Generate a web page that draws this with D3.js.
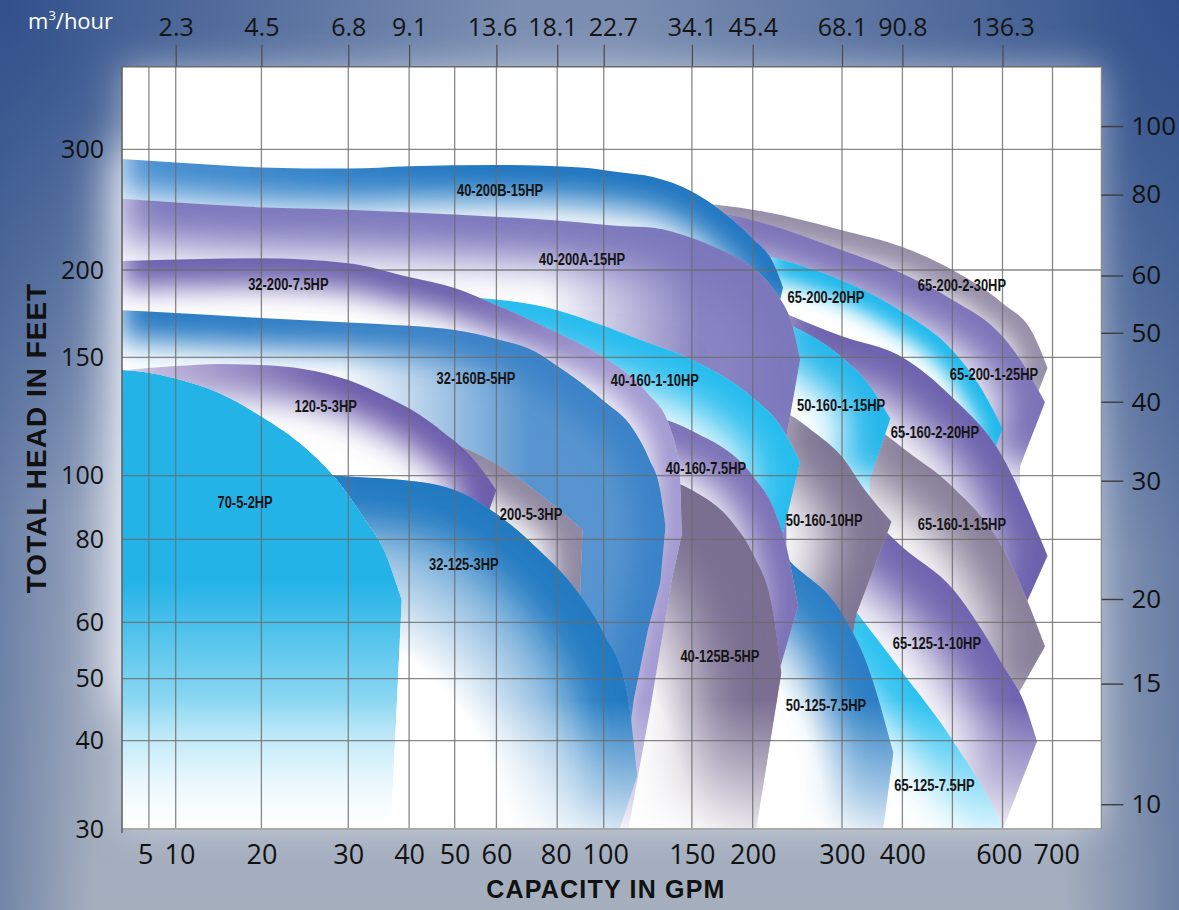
<!DOCTYPE html>
<html>
<head>
<meta charset="utf-8">
<script src="https://cdn.jsdelivr.net/npm/d3@7"></script>
<style>
  html, body { margin: 0; padding: 0; background: #8b9ab7; }
  svg { display: block; }
</style>
</head>
<body>
<div id="chart"></div>
<script>
(function() {
  // ---- axis values ----
  var headTicks  = [30, 40, 50, 60, 80, 100, 150, 200, 300];
  var headGrid   = [40, 50, 60, 80, 100, 150, 200, 300];
  var meterTicks = [10, 15, 20, 30, 40, 50, 60, 80, 100];
  var gpmTicks   = [5, 10, 20, 30, 40, 50, 60, 80, 100, 150, 200, 300, 400, 600, 700];
  var gpmGrid    = [5, 10, 20, 30, 40, 50, 60, 80, 100, 150, 200, 300, 400, 500, 600, 700];
  var m3Gpm      = [10, 20, 30, 40, 60, 80, 100, 150, 200, 300, 400, 600];
  var m3Labels   = ["2.3", "4.5", "6.8", "9.1", "13.6", "18.1", "22.7", "34.1", "45.4", "68.1", "90.8", "136.3"];

  // ---- pump curves, [gpm, feet], back to front ----
  var pumpNames = [
    "65-200-2-30HP", "65-200-1-25HP", "65-200-20HP", "65-160-2-20HP", "65-160-1-15HP",
    "50-160-1-15HP", "65-125-1-10HP", "65-125-7.5HP", "50-160-10HP",
    "40-200B-15HP", "40-200A-15HP", "40-160-1-10HP", "50-125-7.5HP", "40-160-7.5HP", "40-125B-5HP",
    "32-200-7.5HP", "32-160B-5HP", "200-5-3HP", "120-5-3HP", "32-125-3HP", "70-5-2HP"
  ];

  // upper edge of each band, ending at its point
  var pumpCurves = [
    [[160,255],[200,250],[300,233],[400,219],[500,200],[600,181],[660,164],[690,145.5]],
    [[165,249],[200,241.5],[300,216.6],[400,198],[500,183],[600,162],[648,145],[685,131]],
    [[220,211],[300,194],[400,176],[500,154],[560,136],[600,120]],
    [[228,177],[300,162],[400,150],[500,133],[600,108],[660,86],[690,76]],
    [[330,124],[374,117],[399,112],[500,96.5],[600,78],[645,66.6],[685,55.7]],
    [[231,171],[300,150],[346,138],[380,124]],
    [[320,90],[363,84],[401,78],[501,68],[601,52.4],[645,45.8],[669,39.9]],
    [[300,67],[401,51],[501,40],[601,30],[615,28]],
    [[225,128],[240,126],[270,118],[300,108],[338,95.5],[382,85.5]],
    [[0,292],[10,289],[20,285],[30,284],[40,286],[60,287],[90,285],[109,281],[128,277],[150,265],[173,250],[200,226],[223,206],[234,190]],
    [[0,259],[20,252],[30,250],[50,246],[80,241],[109,236.5],[128,235],[150,226.5],[173,217],[200,202],[226,187],[245,167],[253,149]],
    [[50,185],[80,177],[100,168],[120.6,160],[150,149],[200,133],[230.6,121.4],[253,105.8]],
    [[200,85],[225,79],[239,75.4],[300,62.2],[341,52.7],[385,38.6]],
    [[113,128],[150,119],[200,100],[223,90],[238,78],[251,64]],
    [[100,110],[130,100],[150,95.5],[184,85],[200,76.6],[223,62.2],[232,51]],
    [[0,207.5],[20,209.7],[30,205.6],[40,196],[50,189.7],[60,180],[80,164],[100,150],[124.5,135],[137.5,120.6],[143,102.4],[144.3,81.4]],
    [[0,177],[10,175.4],[20,172.5],[30,170],[40,168],[50,165.6],[60,160.5],[73,153],[80,146.3],[91,138.7],[100,131.5],[117,119.3],[126,106.6],[132,95.5],[135,84]],
    [[40,118],[47.5,115],[60,105],[74,94.5],[91,83]],
    [[0,144.5],[10,146.3],[15,147.2],[20,146.7],[25,145],[30,140.4],[36.3,133.3],[42.4,125.6],[47.4,118.5],[53.7,108.7],[60,95.5]],
    [[27,100.5],[32,99.5],[38.5,98.7],[50,95.5],[60,88],[74,77.4],[87,68.6],[100,58],[113,48.2],[119,36]],
    [[0,144.6],[5,143.5],[10,141],[15,135],[20,125],[25,112],[28.3,100],[32.5,87],[36.3,76],[38.2,68],[38.8,65.4]]
  ];

  // edge running back down from the point
  var pumpEnds = [
    [[665,132]], [[635,104]], [[580,108]], [[615,57]], [[619,45.8]],
    [[346,98.6]], [[601,30]], [], [[324,62],[275,30]],
    [[227,175]], [[238,117]], [[234,82],[208,30]], [[368,30]], [[215.7,44.4],[205,30]], [[204,30]],
    [[138.6,70.2],[126,44.5],[114,30]], [[132,69.5],[125,58.6],[117,46.6],[108,30]],
    [[90,68.6],[87,30]], [[54,75],[50,30]], [[109,30]], [[37,30]]
  ];

  var labelAt = [
    [519,191.4], [583,143], [282,184.5], [465,118.4], [519,84.7],
    [299,129.8], [469,56.3], [464,35], [280,86],
    [61.2,266], [90.7,209.1], [129,140.4], [282,45.8], [161.6,103.3], [173,54],
    [23.1,192], [55.1,141.3], [71.4,88], [27.4,129.4], [52.2,74], [18.1,91.7]
  ];

  // ---- look ----
  // fade: how far the colour reaches in from the band's edge
  // c0/hold/mid: edge colour at the left, kept to "hold", blended into c by "mid"
  // body: extra wash inside the band ("r" radial from lower left, "h" left to right)
  var pumpStyle = {
    "65-200-2-30HP": { c: "#958ea8", fade: 50 },
    "65-200-1-25HP": { c: "#7a71b7", fade: 75 },
    "65-200-20HP":   { c: "#1fb8ec", fade: 40 },
    "65-160-2-20HP": { c: "#6b5fac", fade: 90 },
    "65-160-1-15HP": { c: "#877e98", fade: 95 },
    "50-160-1-15HP": { c: "#22b6ea", fade: 75 },
    "65-125-1-10HP": { c: "#6d61ad", fade: 105 },
    "65-125-7.5HP":  { c: "#25c0f0", fade: 85 },
    "50-160-10HP":   { c: "#7c7391", fade: 105 },
    "50-125-7.5HP":  { c: "#2a7ec4", fade: 90, body: ["r", 0.55, 1.0, 0.85] },
    "40-200B-15HP":  { c: "#1b75c0", c0: "#4a90d2", fade: 70 },
    "40-200A-15HP":  { c: "#7b77bc", fade: 85, body: ["h", 0.62, 0.85, 0.9] },
    "40-160-1-10HP": { c: "#20bbee", fade: 90 },
    "40-160-7.5HP":  { c: "#7a6fb6", fade: 75 },
    "40-125B-5HP":   { c: "#7a6e91", fade: 140, body: ["r", 0.5, 0.95, 0.9] },
    "32-200-7.5HP":  { c: "#a199d0", c0: "#6c60ad", hold: 0.6, mid: 0.86, fade: 55 },
    "32-160B-5HP":   { c: "#3a82c7", c0: "#2278c2", fade: 60, body: ["h", 0.4, 0.75, 0.85] },
    "200-5-3HP":     { c: "#8d86a0", fade: 60 },
    "120-5-3HP":     { c: "#6a5caa", c0: "#cdc7e5", fade: 65 },
    "32-125-3HP":    { c: "#2079c1", fade: 80, body: ["r", 0.6, 1.0, 0.85] },
    "70-5-2HP":      { c: "#24b3e7", vfill: [0.42, 0.92] }
  };

  var W = 1179, H = 910;
  var left = 122, right = 1101.4, top = 66.7, bottom = 829;

  // the chart's own hand-spaced GPM axis
  var x = d3.scaleLinear()
    .domain([0, 5, 10, 20, 30, 40, 50, 60, 80, 100, 150, 200, 300, 400, 500, 600, 700, 800])
    .range([left, 148.9, 175.7, 261.4, 348.3, 409.1, 454.7, 496.4, 557.2, 603.7, 691.9, 752.7, 842, 902.4, 952.4, 1002.5, 1052.5, right]);
  var y = d3.scaleLinear()
    .domain([30, 40, 50, 60, 80, 100, 150, 200, 300, 400])
    .range([bottom, 740.7, 678.7, 622.3, 539.3, 475.7, 357.3, 270, 149.3, top]);
  var yM = d3.scaleLinear()
    .domain(y.domain().map(function(f) { return f * 0.3048; }))
    .range(y.range());

  var svg = d3.select("#chart").append("svg").attr("width", W).attr("height", H);
  var defs = svg.append("defs");

  function stops(grad, list) {
    list.forEach(function(s) {
      grad.append("stop").attr("offset", s[0]).attr("stop-color", s[1])
        .attr("stop-opacity", s[2] === undefined ? 1 : s[2]);
    });
    return grad;
  }

  function fullBlur(id, sd) {
    defs.append("filter").attr("id", id)
      .attr("filterUnits", "userSpaceOnUse").attr("x", 0).attr("y", 0).attr("width", W).attr("height", H)
      .append("feGaussianBlur").attr("stdDeviation", sd);
  }

  // ---- background ----
  stops(defs.append("linearGradient").attr("id", "bgLin")
    .attr("x1", 0).attr("y1", 0).attr("x2", 0).attr("y2", 1),
    [[0, "#7b8eb1"], [0.5, "#93a1bd"], [1, "#a6afbe"]]);
  stops(defs.append("linearGradient").attr("id", "bgSides")
    .attr("x1", 0).attr("y1", 0).attr("x2", 1).attr("y2", 0),
    [[0, "#34538b", 0.45], [0.08, "#34538b", 0], [0.9, "#34538b", 0], [1, "#34538b", 0.5]]);
  stops(defs.append("radialGradient").attr("id", "bgTL").attr("gradientUnits", "userSpaceOnUse")
    .attr("cx", 0).attr("cy", 0).attr("r", 520),
    [[0, "#2f4f8a", 0.95], [1, "#2f4f8a", 0]]);
  stops(defs.append("radialGradient").attr("id", "bgTR").attr("gradientUnits", "userSpaceOnUse")
    .attr("cx", W).attr("cy", 0).attr("r", 560),
    [[0, "#2f4f8a", 0.95], [1, "#2f4f8a", 0]]);

  svg.append("rect").attr("width", W).attr("height", H).attr("fill", "url(#bgLin)");
  svg.append("rect").attr("width", W).attr("height", H).attr("fill", "url(#bgSides)");
  svg.append("rect").attr("width", W).attr("height", H).attr("fill", "url(#bgTL)");
  svg.append("rect").attr("width", W).attr("height", H).attr("fill", "url(#bgTR)");

  fullBlur("glow", 18);
  fullBlur("glowLeft", 24);
  svg.append("rect")
    .attr("x", left).attr("y", top).attr("width", right - left).attr("height", bottom - top)
    .attr("fill", "#eef1f7").attr("opacity", 0.55).attr("filter", "url(#glow)");
  svg.append("rect")
    .attr("x", left - 10).attr("y", 150).attr("width", 220).attr("height", 560)
    .attr("fill", "#f4f6fa").attr("opacity", 0.9).attr("filter", "url(#glowLeft)");

  // ---- plot ----
  defs.append("clipPath").attr("id", "plotClip").append("rect")
    .attr("x", left).attr("y", top).attr("width", right - left).attr("height", bottom - top);

  var plot = svg.append("g").attr("clip-path", "url(#plotClip)");
  plot.append("rect")
    .attr("x", left).attr("y", top).attr("width", right - left).attr("height", bottom - top)
    .attr("fill", "#fff");

  var curveLine = d3.line().curve(d3.curveMonotoneX);
  var floorFt = 25;

  function px(d) { return [x(d[0]), y(d[1])]; }
  function lineTo(list) {
    return list.map(function(p) { return "L" + p[0] + "," + p[1]; }).join("");
  }

  function outline(topPts, endPts) {
    var pts = topPts.map(px);
    var rest = endPts.map(px);
    var last = rest.length ? rest[rest.length - 1] : pts[pts.length - 1];
    rest.push([last[0], y(floorFt)], [pts[0][0], y(floorFt)]);
    return curveLine(pts) + lineTo(rest) + "Z";
  }

  function edgePath(topPts, endPts) {
    return curveLine(topPts.map(px)) + lineTo(endPts.map(px));
  }

  var bands = plot.append("g");

  pumpNames.forEach(function(name, i) {
    var st = pumpStyle[name];
    var shape = outline(pumpCurves[i], pumpEnds[i]);

    defs.append("clipPath").attr("id", "band" + i).append("path").attr("d", shape);
    var g = bands.append("g").attr("clip-path", "url(#band" + i + ")");
    g.append("path").attr("d", shape).attr("fill", "#fff");

    if (st.vfill) {
      stops(defs.append("linearGradient").attr("id", "vf" + i)
        .attr("x1", 0).attr("y1", 0).attr("x2", 0).attr("y2", 1),
        [[0, st.c, 1], [st.vfill[0], st.c, 1], [st.vfill[1], st.c, 0]]);
      g.append("path").attr("d", shape).attr("fill", "url(#vf" + i + ")");
    }

    if (st.body) {
      var grad = st.body[0] === "r"
        ? defs.append("radialGradient").attr("id", "body" + i).attr("cx", 0).attr("cy", 1).attr("r", 1)
        : defs.append("linearGradient").attr("id", "body" + i).attr("x1", 0).attr("y1", 0).attr("x2", 1).attr("y2", 0);
      stops(grad, [[st.body[1], st.c, 0], [st.body[2], st.c, st.body[3]]]);
      g.append("path").attr("d", shape).attr("fill", "url(#body" + i + ")");
    }

    if (st.fade) {
      fullBlur("soft" + i, st.fade / 4);
      var stroke = st.c;
      if (st.c0) {
        stops(defs.append("linearGradient").attr("id", "edge" + i)
          .attr("x1", 0).attr("y1", 0).attr("x2", 1).attr("y2", 0),
          [[0, st.c0], [st.hold || 0, st.c0], [st.mid || 0.55, st.c], [1, st.c]]);
        stroke = "url(#edge" + i + ")";
      }
      g.append("path")
        .attr("d", edgePath(pumpCurves[i], pumpEnds[i]))
        .attr("fill", "none")
        .attr("stroke", stroke)
        .attr("stroke-width", st.fade)
        .attr("stroke-linejoin", "round")
        .attr("filter", "url(#soft" + i + ")");
    }
  });

  // everything washes out toward the floor of the chart
  stops(defs.append("linearGradient").attr("id", "floor")
    .attr("x1", 0).attr("y1", 0).attr("x2", 0).attr("y2", 1),
    [[0, "#fff", 0], [1, "#fff", 0.78]]);
  plot.append("rect")
    .attr("x", left).attr("y", 700).attr("width", right - left).attr("height", bottom - 700)
    .attr("fill", "url(#floor)");

  // grid
  var grid = plot.append("g").attr("stroke", "#6a6a6a").attr("stroke-opacity", 0.8).attr("stroke-width", 1.3);
  grid.selectAll("line.v").data(gpmGrid).join("line")
    .attr("x1", function(d) { return x(d); }).attr("x2", function(d) { return x(d); })
    .attr("y1", top).attr("y2", bottom);
  grid.selectAll("line.h").data(headGrid).join("line")
    .attr("x1", left).attr("x2", right)
    .attr("y1", function(d) { return y(d); }).attr("y2", function(d) { return y(d); });

  // band names, squeezed to a condensed face
  plot.append("g").selectAll("text").data(pumpNames).join("text")
    .attr("transform", function(d, i) {
      return "translate(" + x(labelAt[i][0]) + "," + y(labelAt[i][1]) + ") scale(0.76,1)";
    })
    .attr("dy", "0.36em")
    .attr("text-anchor", "middle")
    .attr("font-family", "'Liberation Sans', Arial, sans-serif")
    .attr("font-weight", "bold")
    .attr("font-size", 17)
    .attr("fill", "#141414")
    .text(function(d) { return d; });

  // frame
  var frame = svg.append("g").attr("fill", "none");
  frame.append("line").attr("x1", left).attr("x2", right).attr("y1", top).attr("y2", top)
    .attr("stroke", "#6a6a6a").attr("stroke-width", 1.5);
  frame.append("line").attr("x1", left).attr("x2", right).attr("y1", bottom).attr("y2", bottom)
    .attr("stroke", "#a9a9a9").attr("stroke-width", 2);
  frame.append("line").attr("x1", left).attr("x2", left).attr("y1", top).attr("y2", bottom + 4)
    .attr("stroke", "#5c5c5c").attr("stroke-width", 1.5);
  frame.append("line").attr("x1", right).attr("x2", right).attr("y1", top).attr("y2", bottom)
    .attr("stroke", "#8a8a8a").attr("stroke-width", 1.3);

  // ---- axes ----
  var tickFont = "'Open Sans', 'Noto Sans', sans-serif";

  function styleAxis(g, size, color) {
    g.select(".domain").remove();
    g.selectAll("text").attr("font-family", tickFont).attr("font-size", size).attr("fill", color);
    g.selectAll("line").attr("stroke", "#3d3d3d").attr("stroke-width", 1.4);
  }

  // push neighbouring tick labels apart where they would touch
  function spread(g, minGap) {
    var texts = g.selectAll(".tick text").nodes();
    var base = texts.map(function(n) { return x(d3.select(n.parentNode).datum()); });
    var half = texts.map(function(n) { return n.getComputedTextLength() / 2; });
    var c = base.slice();
    for (var it = 0; it < 20; it++) {
      for (var i = 0; i < c.length - 1; i++) {
        var gap = (c[i + 1] - half[i + 1]) - (c[i] + half[i]);
        if (gap < minGap) {
          var d = (minGap - gap) / 2;
          c[i] -= d;
          c[i + 1] += d;
        }
      }
    }
    texts.forEach(function(n, i) { d3.select(n).attr("x", c[i] - base[i]); });
  }

  svg.append("g").attr("transform", "translate(" + left + ",0)")
    .call(d3.axisLeft(y).tickValues(headTicks).tickSize(0).tickPadding(18).tickFormat(d3.format("d")))
    .call(styleAxis, 25, "#111");

  svg.append("g").attr("transform", "translate(" + right + ",0)")
    .call(d3.axisRight(yM).tickValues(meterTicks).tickSize(22).tickPadding(8).tickFormat(d3.format("d")))
    .call(styleAxis, 26, "#111");

  svg.append("g").attr("transform", "translate(0," + bottom + ")")
    .call(d3.axisBottom(x).tickValues(gpmTicks).tickSize(0).tickPadding(16).tickFormat(d3.format("d")))
    .call(styleAxis, 27, "#111")
    .call(spread, 11);

  var topAxis = svg.append("g").attr("transform", "translate(0," + top + ")")
    .call(d3.axisTop(x).tickValues(m3Gpm).tickSize(22).tickPadding(9)
      .tickFormat(function(d, i) { return m3Labels[i]; }))
    .call(styleAxis, 25, "#151515")
    .call(spread, 11);
  topAxis.selectAll("line").attr("stroke", "#4a4a4a").attr("stroke-width", 1.2);

  // unit of the top axis
  var unit = svg.append("text").attr("x", 28).attr("y", 29)
    .attr("font-family", tickFont).attr("font-size", 22).attr("fill", "#fff");
  unit.append("tspan").text("m");
  unit.append("tspan").attr("dy", -9).attr("font-size", 13).text("3");
  unit.append("tspan").attr("dy", 9).text("/hour");

  // titles
  svg.append("text")
    .attr("transform", "translate(46,438) rotate(-90)")
    .attr("text-anchor", "middle")
    .attr("font-family", "'Liberation Sans', Arial, sans-serif")
    .attr("font-weight", "bold").attr("font-size", 28).attr("letter-spacing", 1)
    .attr("fill", "#111")
    .text("TOTAL HEAD IN FEET");

  svg.append("text")
    .attr("x", 606).attr("y", 898)
    .attr("text-anchor", "middle")
    .attr("font-family", "'Liberation Sans', Arial, sans-serif")
    .attr("font-weight", "bold").attr("font-size", 25).attr("letter-spacing", 1.2)
    .attr("fill", "#111")
    .text("CAPACITY IN GPM");
})();
</script>
</body>
</html>
